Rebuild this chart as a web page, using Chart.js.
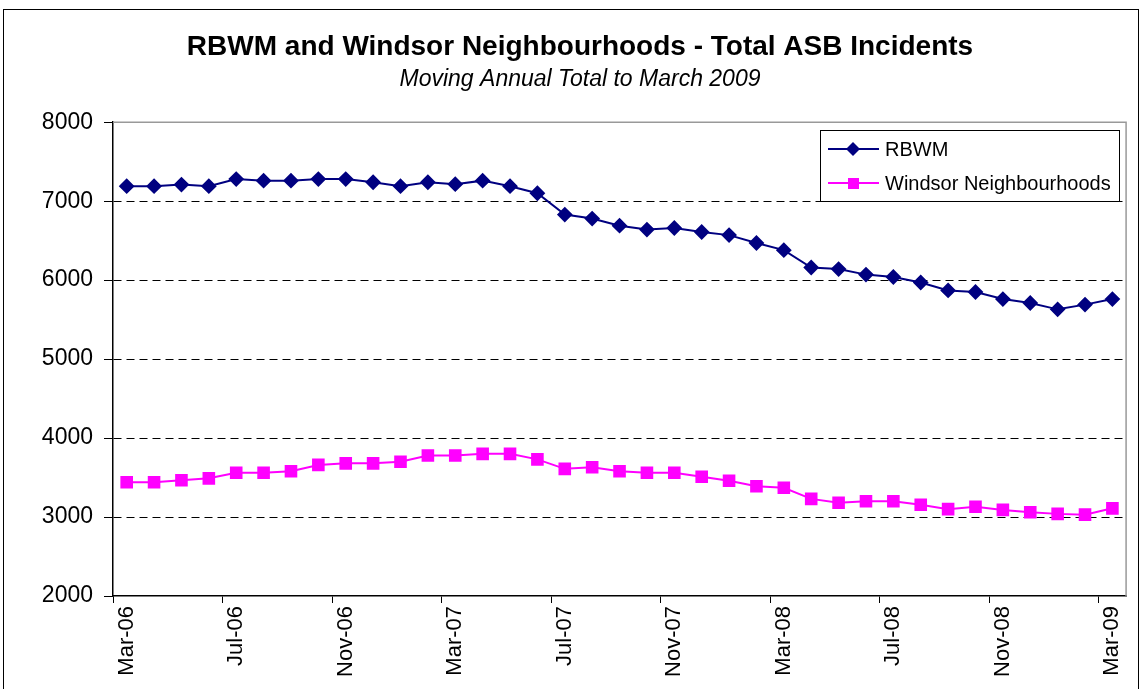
<!DOCTYPE html>
<html>
<head>
<meta charset="utf-8">
<title>RBWM and Windsor Neighbourhoods - Total ASB Incidents</title>
<script src="https://cdn.jsdelivr.net/npm/chart.js@4.4.1/dist/chart.umd.min.js"></script>
<style>
html,body{margin:0;padding:0;background:#fff;}
#wrap{width:1142px;height:689px;position:relative;}
</style>
</head>
<body>
<div id="wrap"><canvas id="asbChart"></canvas></div>
<script>

const months = [
"Mar-06","Apr-06","May-06","Jun-06","Jul-06","Aug-06","Sep-06","Oct-06","Nov-06","Dec-06","Jan-07","Feb-07",
"Mar-07","Apr-07","May-07","Jun-07","Jul-07","Aug-07","Sep-07","Oct-07","Nov-07","Dec-07","Jan-08","Feb-08",
"Mar-08","Apr-08","May-08","Jun-08","Jul-08","Aug-08","Sep-08","Oct-08","Nov-08","Dec-08","Jan-09","Feb-09",
"Mar-09"
];

const rbwm = [
7190,7190,7210,7190,7280,7260,7260,7280,7280,7240,7190,7240,
7215,7260,7190,7100,6830,6780,6690,6640,6660,6610,6570,6470,
6380,6160,6140,6070,6040,5970,5870,5850,5760,5710,5630,5690,
5760
];

const windsor = [
3440,3440,3465,3490,3560,3560,3580,3660,3680,3680,3700,3780,
3780,3800,3800,3730,3610,3630,3580,3560,3560,3510,3460,3390,
3370,3230,3180,3200,3200,3155,3100,3130,3090,3060,3040,3030,
3110
];

const yTicks = [2000,3000,4000,5000,6000,7000,8000];

const FONT = "'Liberation Sans', Arial, sans-serif";

/* frame, plot border and the boxed legend */
const excelBits = {
id:"excelBits",
beforeDraw(chart){
const c = chart.ctx;
c.save();
c.fillStyle = "#fff";
c.fillRect(0,0,chart.width,chart.height);
c.strokeStyle = "#000";
c.lineWidth = 1;
c.strokeRect(3.5,9.5,1135,700);
c.restore();
},
afterDatasetsDraw(chart){
const c = chart.ctx;
const a = chart.chartArea;
c.save();
c.strokeStyle = "#999";
c.lineWidth = 1.5;
c.beginPath();
c.moveTo(a.left,a.top);
c.lineTo(a.right,a.top);
c.lineTo(a.right,a.bottom);
c.stroke();
c.restore();
},
afterDraw(chart){
const c = chart.ctx;
const bx = 820, by = 130, bw = 299, bh = 71;
c.save();
c.fillStyle = "#fff";
c.fillRect(bx,by,bw,bh);
c.strokeStyle = "#000";
c.lineWidth = 1;
c.strokeRect(bx+0.5,by+0.5,bw,bh);
c.font = "20px " + FONT;
c.textBaseline = "middle";
chart.data.datasets.forEach((ds,i)=>{
const y = by + 19 + i*34;
c.strokeStyle = ds.borderColor;
c.lineWidth = 2;
c.beginPath();
c.moveTo(828,y);
c.lineTo(879,y);
c.stroke();
c.fillStyle = ds.backgroundColor;
c.beginPath();
if(ds.pointStyle === "rectRot"){
c.moveTo(853,y-7);
c.lineTo(860,y);
c.lineTo(853,y+7);
c.lineTo(846,y);
c.closePath();
c.fill();
}else{
c.fillRect(848,y-5,11,11);
}
c.fillStyle = "#000";
c.fillText(ds.label,885,y+1);
});
c.restore();
}
};

new Chart(
document.getElementById("asbChart"),
{
type:"line",
data:{
labels:months,
datasets:[
{
label:"RBWM",
data:rbwm,
borderColor:"#000080",
backgroundColor:"#000080",
borderWidth:2,
pointStyle:"rectRot",
pointRadius:6.5,
pointHoverRadius:6.5,
tension:0
},
{
label:"Windsor Neighbourhoods",
data:windsor,
borderColor:"#ff00ff",
backgroundColor:"#ff00ff",
borderWidth:2,
pointStyle:"rect",
pointRadius:7.5,
pointHoverRadius:7.5,
tension:0
}
]
},
options:{
responsive:true,
maintainAspectRatio:false,
animation:false,
layout:{
padding:{left:33,right:15,top:10,bottom:0}
},
plugins:{
legend:{display:false},
tooltip:{enabled:false},
title:{
display:true,
text:"RBWM and Windsor Neighbourhoods - Total ASB Incidents",
color:"#000",
font:{family:FONT,size:28,weight:"bold",lineHeight:1.2},
padding:{top:20,bottom:0}
},
subtitle:{
display:true,
text:"Moving Annual Total to March 2009",
color:"#000",
font:{family:FONT,size:23,style:"italic",lineHeight:1.2},
padding:{top:2,bottom:29}
}
},
scales:{
x:{
offset:true,
grid:{
offset:true,
drawOnChartArea:false,
tickLength:7,
tickColor:(ctx)=> ctx.index % 4 === 0 ? "#000" : "rgba(0,0,0,0)"
},
border:{color:"#000",width:1.5},
ticks:{
autoSkip:false,
maxRotation:90,
minRotation:90,
padding:3,
color:"#000",
font:{family:FONT,size:22},
callback:function(v,i){
return i % 4 === 0 ? this.getLabelForValue(v) : "";
}
},
afterFit(scale){
scale.height = 93;
}
},
y:{
min:2000,
max:8000,
afterBuildTicks(scale){
scale.ticks = yTicks.map(v=>({value:v}));
},
grid:{
color:(ctx)=>{
const v = ctx.tick && ctx.tick.value;
return (v === 2000 || v === 8000) ? "rgba(0,0,0,0)" : "#000";
},
lineWidth:1,
tickLength:9,
tickColor:"#000"
},
border:{color:"#000",width:1.5,dash:[8,5]},
ticks:{
padding:11,
color:"#000",
font:{family:FONT,size:23},
callback:(v)=> String(v)
},
afterFit(scale){
scale.width = 80;
}
}
}
},
plugins:[excelBits]
}
);

</script>
</body>
</html>
